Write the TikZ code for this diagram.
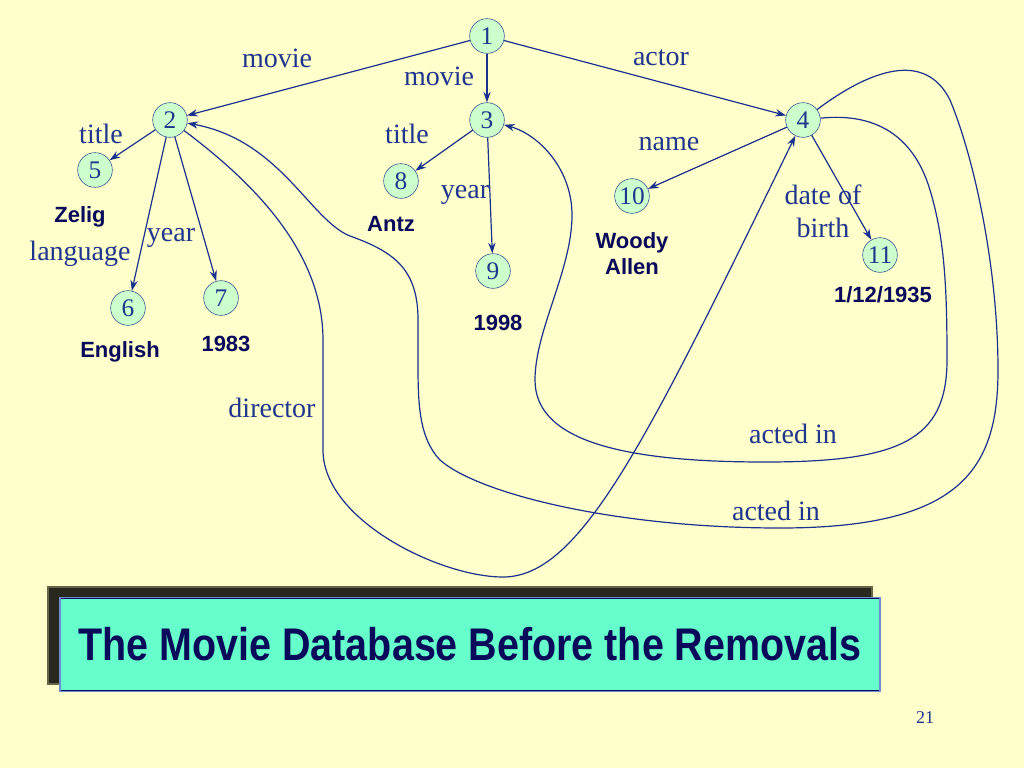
\documentclass[tikz,border=0pt]{standalone}
\usepackage{fontspec}
\setmainfont{Liberation Serif}
\newfontfamily\valfont{Liberation Sans}
\usepackage{graphicx}
\usetikzlibrary{arrows.meta,positioning}

\definecolor{bgyellow}{RGB}{255,255,204}
\definecolor{objfill}{RGB}{204,255,204}
\definecolor{objline}{RGB}{40,70,140}
\definecolor{edgeblue}{RGB}{25,50,140}
\definecolor{labelblue}{RGB}{30,55,140}
\definecolor{valnavy}{RGB}{10,10,90}
\definecolor{titlecyan}{RGB}{102,255,204}
\definecolor{shadowdark}{RGB}{40,40,30}
\definecolor{shadowedge}{RGB}{100,100,70}

\begin{document}
\begin{tikzpicture}[x=0.75pt,y=-0.75pt,
  obj/.style={draw=objline, fill=objfill, circle, minimum size=26pt, inner sep=0pt,
    text=labelblue, font=\fontsize{19}{19}\selectfont},
  edge/.style={draw=edgeblue, line width=0.9pt, -{Stealth[length=8pt,width=5.5pt]}},
  lbl/.style={text=labelblue, font=\fontsize{21}{25}\selectfont, inner sep=0pt, align=center},
  val/.style={text=valnavy, font=\valfont\bfseries\fontsize{16.5}{19.5}\selectfont,
    inner sep=0pt, align=center}]
  \useasboundingbox (0,0) rectangle (1024,768);
  \fill[bgyellow] (0,0) rectangle (1024,768);

  % Objects
  \node[obj] (n1) at (487,36) {1};
  \node[obj] (n2) at (170,120) {2};
  \node[obj] (n3) at (487,120) {3};
  \node[obj] (n4) at (803,120) {4};
  \node[obj] (n5) at (95,170) {5};
  \node[obj] (n6) at (128,308) {6};
  \node[obj] (n7) at (221,298) {7};
  \node[obj] (n8) at (401,181) {8};
  \node[obj] (n9) at (493,271) {9};
  \node[obj] (n10) at (632,196) {10};
  \node[obj] (n11) at (880,255) {11};

  % Values
  \node[val] (zelig) at (80,217) {Zelig};
  \node[val] (english) at (120,352) {English};
  \node[val] (y1983) at (226,344) {1983};
  \node[val] (antz) at (391,224) {Antz};
  \node[val] (y1998) at (498,323) {1998};
  \node[val] (woody) at (632,254) {Woody\\Allen};
  \node[val] (birthday) at (883,295) {1/12/1935};

  % Tree edges
  \draw[edge] (n1) -- (n2);
  \draw[edge] (n1) -- (n3);
  \draw[edge] (n1) -- (n4);
  \draw[edge] (n2) -- (n5);
  \draw[edge] (n2) -- (n6);
  \draw[edge] (n2) -- (n7);
  \draw[edge] (n3) -- (n8);
  \draw[edge] (n3) -- (n9);
  \draw[edge] (n4) -- (n10);
  \draw[edge] (n4) -- (n11);

  % Cross links
  \draw[edge] (n2) .. controls (250,180) and (323,250) .. (323,340) -- (323,450)
    .. controls (323,520) and (440,577) .. (503,577)
    .. controls (580,577) and (645,445) .. (n4);
  \draw[edge] (n4) .. controls (880,112) and (915,140) .. (930,190)
    .. controls (945,240) and (947,290) .. (947,360)
    .. controls (947,440) and (900,462) .. (765,462)
    .. controls (620,462) and (535,440) .. (535,380)
    .. controls (535,330) and (572,270) .. (572,215)
    .. controls (572,170) and (540,135) .. (n3);
  \draw[edge] (n4) .. controls (870,70) and (925,50) .. (950,100)
    .. controls (975,160) and (998,270) .. (998,370)
    .. controls (998,470) and (960,528) .. (780,528)
    .. controls (620,528) and (480,495) .. (440,460)
    .. controls (418,437) and (418,400) .. (418,360) -- (418,320)
    .. controls (418,270) and (395,252) .. (350,236)
    .. controls (310,220) and (280,140) .. (n2);

  % Edge labels
  \node[lbl] (l12) at (277,58) {movie};
  \node[lbl] (l13) at (439,76) {movie};
  \node[lbl] (l14) at (661,58) {actor};
  \node[lbl] (l25) at (101,134) {title};
  \node[lbl] (l26) at (80,254) {language};
  \node[lbl] (l27) at (171,238) {year};
  \node[lbl] (l38) at (407,134) {title};
  \node[lbl] (l39) at (465,195) {year};
  \node[lbl] (l410) at (669,144) {name};
  \node[lbl] (l411) at (823,211) {date of\\birth};
  \node[lbl] (ldir) at (272,408) {director};
  \node[lbl] (lact1) at (793,434) {acted in};
  \node[lbl] (lact2) at (776,511) {acted in};

  % Title
  \node[fill=shadowdark, draw=shadowedge, line width=1pt, minimum width=618pt,
    minimum height=72.75pt, inner sep=0pt] (shadow) at (460,635.5) {};
  \node[fill=titlecyan, draw=valnavy, double=cyan!40!blue!60, double distance=0.8pt,
    minimum width=615pt, minimum height=70pt, inner sep=0pt, text=valnavy,
    font=\valfont\bfseries\fontsize{29.6}{30}\selectfont] (title) at (470,644.5)
    {\scalebox{1}[1.16]{The Movie Database Before the Removals}};

  \node[text=labelblue, font=\fontsize{13.5}{14}\selectfont] (pagenum) at (925,718) {21};
\end{tikzpicture}
\end{document}
